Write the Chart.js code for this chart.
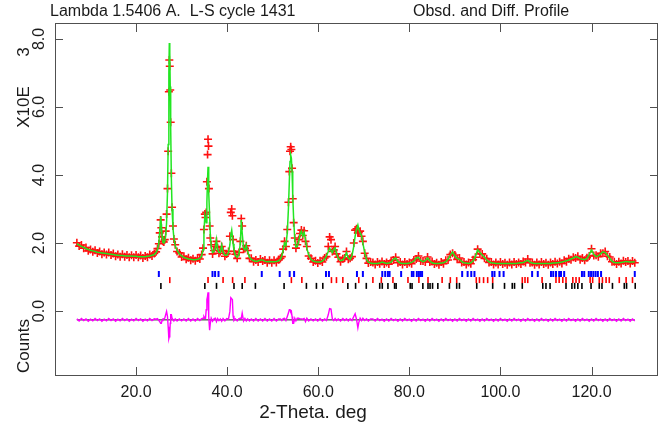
<!DOCTYPE html>
<html>
<head>
<meta charset="utf-8">
<script src="https://cdn.jsdelivr.net/npm/chart.js@4"></script>
<style>
  html, body { margin: 0; background: #fff; }
  #wrap { width: 667px; height: 435px; }
</style>
</head>
<body>
<div id="wrap"><canvas id="profile" width="667" height="435"></canvas></div>
<script>
// 2-theta grid (deg) and profile values in units of 10^3 counts
const twoTheta = [
  7.0, 7.5, 8.0, 8.5, 9.0, 9.5, 10.0, 10.5, 11.0, 11.5, 12.0, 12.5, 13.0, 13.5, 14.0, 14.5, 15.0, 15.5,
  16.0, 16.5, 17.0, 17.5, 18.0, 18.5, 19.0, 19.5, 20.0, 20.5, 21.0, 21.5, 22.0, 22.5, 23.0, 23.5, 24.0,
  24.4, 24.7, 25.0, 25.2, 25.4, 25.55, 25.7, 25.9, 26.1, 26.3, 26.5, 26.7, 26.9, 27.05, 27.2, 27.3, 27.4,
  27.5, 27.6, 27.75, 27.9, 28.1, 28.3, 28.6, 29.0, 29.5,
  30.0, 30.5, 31.0, 31.5, 32.0, 32.5, 33.0, 33.5, 34.0,
  34.4, 34.7, 34.9, 35.1, 35.25, 35.4, 35.55, 35.7, 35.8, 35.9, 36.0, 36.15, 36.3, 36.5, 36.8, 37.1, 37.4,
  37.65, 37.9, 38.2, 38.5, 38.8, 39.1, 39.5, 39.9, 40.3, 40.6, 40.8, 41.0, 41.15, 41.3, 41.5, 41.8, 42.2,
  42.6, 42.9, 43.1, 43.3, 43.6, 43.9, 44.2, 44.5, 44.9, 45.3,
  45.8, 46.3, 46.8, 47.3, 47.8, 48.3, 48.8, 49.3, 49.8, 50.3, 50.8, 51.3,
  51.7, 52.0, 52.3, 52.6, 52.9, 53.2, 53.45, 53.65, 53.8, 53.95, 54.1, 54.25, 54.4, 54.6, 54.85, 55.1,
  55.4, 55.7, 56.0, 56.3, 56.6, 56.9, 57.2, 57.5, 57.9, 58.4, 58.9, 59.4, 59.9, 60.4, 60.9, 61.4, 61.8,
  62.2, 62.5, 62.8, 63.1, 63.4, 63.7, 64.0, 64.4, 64.9, 65.4, 65.8, 66.2, 66.6, 67.0, 67.4, 67.8, 68.1,
  68.4, 68.7, 68.9, 69.2, 69.5, 69.8, 70.2, 70.6, 71.0, 71.5,
  72.0, 72.5, 73.0, 73.5, 74.0, 74.5, 75.0, 75.5, 76.0, 76.5, 77.0, 77.5, 78.0, 78.5, 79.0, 79.5,
  80.0, 80.5, 81.0, 81.5, 82.0, 82.5, 83.0, 83.5, 84.0, 84.5, 85.0, 85.5, 86.0, 86.5, 87.0, 87.5,
  88.0, 88.5, 89.0, 89.5, 90.0, 90.5, 91.0, 91.5, 92.0, 92.5, 93.0, 93.5, 94.0, 94.5, 95.0, 95.5,
  96.0, 96.5, 97.0, 97.5, 98.0, 98.5, 99.0, 99.5, 100.0, 100.5, 101.0, 101.5, 102.0, 102.5, 103.0, 103.5,
  104.0, 104.5, 105.0, 105.5, 106.0, 106.5, 107.0, 107.5, 108.0, 108.5, 109.0, 109.5, 110.0, 110.5, 111.0, 111.5,
  112.0, 112.5, 113.0, 113.5, 114.0, 114.5, 115.0, 115.5, 116.0, 116.5, 117.0, 117.5, 118.0, 118.5, 119.0, 119.5,
  120.0, 120.5, 121.0, 121.5, 122.0, 122.5, 123.0, 123.5, 124.0, 124.5, 125.0, 125.5, 126.0, 126.5, 127.0, 127.5,
  128.0, 128.5, 129.0, 129.5
];

const yCalc = [
  1.98, 1.94, 1.90, 1.87, 1.84, 1.81, 1.79, 1.77, 1.75, 1.73, 1.72, 1.71, 1.70, 1.69, 1.68, 1.67, 1.66, 1.65,
  1.64, 1.63, 1.63, 1.62, 1.62, 1.62, 1.62, 1.61, 1.61, 1.60, 1.60, 1.60, 1.60, 1.61, 1.62, 1.64, 1.66,
  1.72, 1.80, 2.00, 2.35, 2.78, 2.55, 2.20, 2.02, 2.00, 2.05, 2.20, 2.60, 3.50, 4.90, 7.00, 7.88, 7.60,
  6.60, 5.40, 3.90, 3.00, 2.45, 2.15, 1.92, 1.78, 1.68,
  1.62, 1.58, 1.55, 1.53, 1.52, 1.51, 1.51, 1.52, 1.55,
  1.62, 1.80, 2.30, 2.80, 2.70, 2.60, 3.20, 3.90, 4.24, 4.10, 3.50, 2.80, 2.25, 1.90, 1.72, 1.75, 1.85,
  2.10, 1.82, 1.72, 1.72, 1.94, 1.74, 1.64, 1.64, 1.72, 1.95, 2.25, 2.38, 2.20, 1.98, 1.78, 1.64, 1.58,
  1.68, 2.00, 2.68, 2.30, 1.85, 1.80, 1.95, 1.75, 1.58, 1.52,
  1.48, 1.46, 1.47, 1.50, 1.50, 1.46, 1.45, 1.46, 1.45, 1.45, 1.46, 1.48,
  1.52, 1.62, 1.78, 2.00, 1.92, 2.30, 3.00, 3.80, 4.40, 4.59, 4.50, 4.10, 3.40, 2.70, 2.10, 1.88,
  1.90, 2.05, 2.25, 2.35, 2.20, 2.32, 2.10, 1.85, 1.65, 1.52, 1.47, 1.45, 1.44, 1.44, 1.47, 1.53, 1.62,
  1.75, 1.85, 1.78, 1.72, 1.82, 1.86, 1.70, 1.55, 1.48, 1.50, 1.58, 1.72, 1.55, 1.52, 1.62, 1.90, 2.20,
  2.40, 2.53, 2.40, 2.30, 2.22, 2.00, 1.72, 1.52, 1.44, 1.41,
  1.40, 1.40, 1.40, 1.41, 1.44, 1.42, 1.40, 1.41, 1.44, 1.52, 1.56, 1.46, 1.41, 1.40, 1.40, 1.40,
  1.41, 1.43, 1.47, 1.56, 1.58, 1.49, 1.45, 1.48, 1.56, 1.47, 1.42, 1.40, 1.40, 1.40, 1.41, 1.42,
  1.45, 1.52, 1.64, 1.74, 1.62, 1.55, 1.52, 1.45, 1.42, 1.41, 1.40, 1.42, 1.47, 1.60, 1.80, 1.72,
  1.65, 1.58, 1.50, 1.45, 1.42, 1.41, 1.40, 1.40, 1.40, 1.40, 1.40, 1.40, 1.40, 1.40, 1.40, 1.40,
  1.41, 1.42, 1.43, 1.46, 1.49, 1.44, 1.41, 1.40, 1.40, 1.40, 1.40, 1.40, 1.40, 1.40, 1.40, 1.41,
  1.41, 1.42, 1.43, 1.44, 1.46, 1.48, 1.50, 1.53, 1.56, 1.60, 1.58, 1.54, 1.52, 1.51, 1.55, 1.66,
  1.80, 1.66, 1.60, 1.62, 1.68, 1.74, 1.72, 1.64, 1.55, 1.47, 1.43, 1.42, 1.42, 1.43, 1.44, 1.46,
  1.45, 1.44, 1.44, 1.45
];

const yObs = [
  2.01, 1.91, 1.94, 1.85, 1.87, 1.77, 1.81, 1.74, 1.79, 1.71, 1.75, 1.67, 1.72, 1.66, 1.72, 1.65, 1.69, 1.61,
  1.66, 1.60, 1.67, 1.60, 1.65, 1.58, 1.64, 1.58, 1.65, 1.58, 1.63, 1.56, 1.62, 1.58, 1.66, 1.62, 1.69,
  1.74, 1.84, 1.98, 2.30, 2.68, 2.45, 2.18, 2.05, 2.03, 2.10, 2.35, 2.85, 3.60, 4.70, 6.45, 7.38, 7.20,
  6.50, 5.55, 4.05, 3.05, 2.50, 2.12, 1.95, 1.75, 1.71,
  1.59, 1.61, 1.52, 1.57, 1.49, 1.54, 1.48, 1.56, 1.53,
  1.66, 1.85, 2.40, 2.85, 2.75, 2.90, 3.80, 4.60, 5.05, 4.85, 3.60, 2.50, 2.15, 1.95, 1.68, 1.78, 1.90,
  2.05, 1.86, 1.70, 1.75, 1.90, 1.78, 1.61, 1.68, 1.75, 2.20, 2.90, 3.00, 2.80, 2.10, 1.76, 1.67, 1.55,
  1.72, 2.05, 2.72, 2.50, 1.82, 1.84, 1.92, 1.78, 1.55, 1.55,
  1.45, 1.50, 1.44, 1.53, 1.47, 1.50, 1.42, 1.49, 1.42, 1.49, 1.43, 1.51,
  1.55, 1.60, 1.82, 2.05, 1.90, 2.40, 3.20, 4.10, 4.70, 4.83, 4.75, 4.20, 3.30, 2.60, 2.15, 1.85,
  1.95, 2.10, 2.28, 2.38, 2.22, 2.36, 2.05, 1.90, 1.62, 1.55, 1.44, 1.48, 1.41, 1.48, 1.44, 1.56, 1.60,
  1.90, 2.18, 2.10, 1.75, 1.80, 1.90, 1.68, 1.58, 1.45, 1.54, 1.56, 1.75, 1.52, 1.55, 1.60, 2.00, 2.38,
  2.42, 2.30, 2.32, 2.35, 2.20, 2.05, 1.70, 1.55, 1.41, 1.44,
  1.43, 1.37, 1.44, 1.39, 1.46, 1.38, 1.43, 1.38, 1.48, 1.50, 1.58, 1.42, 1.44, 1.37, 1.44, 1.38,
  1.43, 1.39, 1.50, 1.53, 1.62, 1.47, 1.47, 1.44, 1.59, 1.44, 1.46, 1.38, 1.42, 1.36, 1.44, 1.39,
  1.49, 1.50, 1.66, 1.70, 1.65, 1.52, 1.56, 1.43, 1.44, 1.37, 1.43, 1.39, 1.51, 1.58, 1.82, 1.68,
  1.68, 1.55, 1.54, 1.43, 1.44, 1.37, 1.43, 1.37, 1.44, 1.38, 1.42, 1.36, 1.43, 1.37, 1.44, 1.38,
  1.43, 1.38, 1.46, 1.43, 1.53, 1.42, 1.43, 1.36, 1.43, 1.37, 1.44, 1.38, 1.42, 1.36, 1.43, 1.38,
  1.45, 1.40, 1.45, 1.40, 1.49, 1.45, 1.54, 1.51, 1.58, 1.56, 1.61, 1.51, 1.56, 1.49, 1.57, 1.62,
  1.83, 1.63, 1.64, 1.60, 1.70, 1.70, 1.75, 1.61, 1.59, 1.45, 1.45, 1.38, 1.45, 1.40, 1.48, 1.44,
  1.47, 1.40, 1.47, 1.42
];

// difference curve, drawn offset below the pattern
const yDiff = [
  -0.23, -0.29, -0.22, -0.28, -0.23, -0.30, -0.24, -0.29, -0.22, -0.28, -0.23, -0.30, -0.24, -0.29, -0.22, -0.28, -0.23, -0.30,
  -0.24, -0.29, -0.22, -0.28, -0.23, -0.30, -0.24, -0.29, -0.22, -0.28, -0.23, -0.30, -0.24, -0.29, -0.22, -0.28, -0.23,
  -0.24, -0.22, -0.28, -0.31, -0.36, -0.36, -0.28, -0.23, -0.23, -0.21, -0.11, -0.01, -0.16, -0.46, -0.81, -0.76, -0.66,
  -0.36, -0.11, -0.11, -0.21, -0.21, -0.29, -0.23, -0.29, -0.23,
  -0.29, -0.23, -0.29, -0.22, -0.29, -0.23, -0.29, -0.22, -0.28,
  -0.22, -0.21, -0.16, -0.21, -0.21, 0.04, 0.34, 0.44, 0.55, 0.49, -0.16, -0.56, -0.36, -0.21, -0.30, -0.23, -0.21,
  -0.31, -0.22, -0.28, -0.23, -0.30, -0.22, -0.29, -0.22, -0.23, -0.01, 0.39, 0.36, 0.34, -0.14, -0.28, -0.23, -0.29,
  -0.22, -0.21, -0.22, -0.06, -0.29, -0.22, -0.29, -0.23, -0.29, -0.23,
  -0.29, -0.22, -0.29, -0.23, -0.29, -0.22, -0.29, -0.23, -0.29, -0.22, -0.29, -0.23,
  -0.23, -0.28, -0.22, -0.21, -0.28, -0.16, -0.06, 0.04, 0.04, -0.02, -0.01, -0.16, -0.36, -0.36, -0.21, -0.29,
  -0.21, -0.21, -0.23, -0.23, -0.24, -0.22, -0.31, -0.21, -0.29, -0.23, -0.29, -0.23, -0.29, -0.22, -0.29, -0.23, -0.28,
  -0.11, 0.07, 0.06, -0.23, -0.28, -0.22, -0.28, -0.23, -0.29, -0.22, -0.28, -0.23, -0.29, -0.23, -0.28, -0.16, -0.08,
  -0.24, -0.49, -0.34, -0.21, -0.28, -0.21, -0.28, -0.23, -0.29, -0.23,
  -0.23, -0.29, -0.22, -0.28, -0.24, -0.30, -0.23, -0.29, -0.22, -0.28, -0.24, -0.30, -0.23, -0.29, -0.22, -0.28,
  -0.24, -0.30, -0.23, -0.29, -0.22, -0.28, -0.24, -0.30, -0.23, -0.29, -0.22, -0.28, -0.24, -0.30, -0.23, -0.29,
  -0.22, -0.28, -0.24, -0.30, -0.23, -0.29, -0.22, -0.28, -0.24, -0.30, -0.23, -0.29, -0.22, -0.28, -0.24, -0.30,
  -0.23, -0.29, -0.22, -0.28, -0.24, -0.30, -0.23, -0.29, -0.22, -0.28, -0.24, -0.30, -0.23, -0.29, -0.22, -0.28,
  -0.24, -0.30, -0.23, -0.29, -0.22, -0.28, -0.24, -0.30, -0.23, -0.29, -0.22, -0.28, -0.24, -0.30, -0.23, -0.29,
  -0.22, -0.28, -0.24, -0.30, -0.23, -0.29, -0.22, -0.28, -0.24, -0.30, -0.23, -0.29, -0.22, -0.28, -0.24, -0.30,
  -0.23, -0.29, -0.22, -0.28, -0.24, -0.30, -0.23, -0.29, -0.22, -0.28, -0.24, -0.30, -0.23, -0.29, -0.22, -0.28,
  -0.24, -0.30, -0.23, -0.29
];

const diffZeroTheta = [7.0, 129.5];
const diffZeroLevel = [-0.26, -0.26];

// reflection markers for the three phases
const phase1Ticks = [25.0, 36.78, 37.35, 38.1, 47.6, 51.54, 53.73, 54.7, 61.7, 62.35, 68.5, 69.8, 74.06, 74.7,
  75.3, 75.66, 78.2, 80.55, 80.9, 81.65, 82.1, 82.46, 82.8, 91.6, 92.8, 93.6, 94.3, 98.2, 98.7, 99.8, 100.7,
  106.96, 108.2, 111.1, 111.6, 112.2, 112.9, 113.3, 114.0, 117.9, 118.4, 119.4, 119.9, 120.4, 120.9, 121.4,
  122.1, 129.5];
const phase2Ticks = [27.4, 35.8, 39.1, 41.2, 43.9, 54.1, 56.4, 62.9, 64.0, 65.4, 68.9, 72.0, 73.85, 76.4, 79.7,
  82.1, 84.1, 87.2, 89.0, 90.4, 94.7, 95.4, 96.3, 97.2, 98.3, 104.8, 105.4, 106.0, 109.15, 112.2, 112.9, 113.7,
  114.4, 115.9, 116.6, 117.3, 119.7, 120.25, 121.7, 122.4, 123.2, 123.9, 126.1, 127.6, 129.0];
const phase3Ticks = [25.45, 35.1, 37.66, 41.5, 43.3, 46.2, 52.5, 57.4, 59.6, 61.0, 66.5, 68.2, 70.55, 73.5, 74.06,
  75.3, 76.76, 77.1, 80.2, 80.6, 82.97, 84.1, 84.55, 85.1, 86.26, 88.8, 90.4, 91.0, 94.8, 98.3, 100.9, 102.6,
  103.1, 104.8, 109.3, 110.0, 110.9, 114.4, 115.7, 116.3, 117.0, 117.9, 119.9, 121.7, 122.3, 124.6, 127.2,
  127.7, 129.6];
const tickRowLevels = [1.09, 0.91, 0.74];

const xTickValues = [20, 40, 60, 80, 100, 120];
const xTickLabels = ['20.0', '40.0', '60.0', '80.0', '100.0', '120.0'];
const yTickValues = [0, 2, 4, 6, 8];
const yTickLabels = ['0.0', '2.0', '4.0', '6.0', '8.0'];

const FONT = '"Liberation Sans", Arial, sans-serif';

function toPoints(xs, ys) {
  return xs.map((x, i) => ({ x, y: ys[i] }));
}

function tickRow(xs, level) {
  return xs.map((x) => ({ x, y: level }));
}

const profileFrame = {
  id: 'profileFrame',
  afterDraw(chart) {
    const { ctx, chartArea: area } = chart;
    const xs = chart.scales.x;
    const ys = chart.scales.y;
    ctx.save();
    ctx.strokeStyle = '#505050';
    ctx.lineWidth = 1;
    ctx.strokeRect(area.left + 0.5, area.top + 0.5, area.right - area.left - 1, area.bottom - area.top - 1);
    ctx.beginPath();
    xTickValues.forEach((v) => {
      const px = Math.round(xs.getPixelForValue(v)) + 0.5;
      ctx.moveTo(px, area.bottom);
      ctx.lineTo(px, area.bottom - 9);
      ctx.moveTo(px, area.top);
      ctx.lineTo(px, area.top + 9);
    });
    yTickValues.forEach((v) => {
      const py = Math.round(ys.getPixelForValue(v)) + 0.5;
      ctx.moveTo(area.left, py);
      ctx.lineTo(area.left + 8, py);
      ctx.moveTo(area.right, py);
      ctx.lineTo(area.right - 8, py);
    });
    ctx.stroke();

    ctx.fillStyle = '#1a1a1a';
    ctx.textAlign = 'center';
    ctx.textBaseline = 'middle';
    ctx.font = '16px ' + FONT;
    xTickValues.forEach((v, i) => {
      ctx.fillText(xTickLabels[i], xs.getPixelForValue(v), area.bottom + 17);
    });
    yTickValues.forEach((v, i) => {
      ctx.save();
      ctx.translate(area.left - 15, ys.getPixelForValue(v));
      ctx.rotate(-Math.PI / 2);
      ctx.fillText(yTickLabels[i], 0, 0);
      ctx.restore();
    });

    // rotated axis captions on the left
    ctx.save();
    ctx.font = '17px ' + FONT;
    ctx.translate(24, 0);
    ctx.rotate(-Math.PI / 2);
    ctx.fillText('X10E', -107, 0);
    ctx.fillText('3', -52, 0);
    ctx.fillText('Counts', -346, 0);
    ctx.restore();

    ctx.font = '19px ' + FONT;
    ctx.fillText('2-Theta. deg', 313, 413);

    ctx.font = '16px ' + FONT;
    ctx.textAlign = 'left';
    ctx.fillText('Lambda 1.5406 A.  L-S cycle 1431', 50, 12);
    ctx.fillText('Obsd. and Diff. Profile', 413, 12);
    ctx.restore();
  }
};

new Chart(document.getElementById('profile'), {
  type: 'scatter',
  data: {
    datasets: [
      {
        label: 'Calc',
        type: 'line',
        data: toPoints(twoTheta, yCalc),
        borderColor: '#22e622',
        borderWidth: 1.5,
        pointRadius: 0,
        fill: false,
        order: 0,
      },
      {
        label: 'Obs',
        data: toPoints(twoTheta, yObs),
        pointStyle: 'cross',
        pointRadius: 4,
        borderColor: '#ff1010',
        backgroundColor: '#ff1010',
        borderWidth: 1.6,
        order: 1,
      },
      {
        label: 'Diff',
        type: 'line',
        data: toPoints(twoTheta, yDiff),
        borderColor: '#ff00ff',
        borderWidth: 1.4,
        pointRadius: 0,
        order: 2,
      },
      {
        label: 'Diff zero',
        type: 'line',
        data: toPoints(diffZeroTheta, diffZeroLevel),
        borderColor: '#202020',
        borderWidth: 1,
        pointRadius: 0,
        order: 3,
      },
      {
        label: 'Phase 1',
        data: tickRow(phase1Ticks, tickRowLevels[0]),
        pointStyle: 'line',
        rotation: 90,
        pointRadius: 3,
        borderColor: '#0000ff',
        borderWidth: 2,
        order: 4,
      },
      {
        label: 'Phase 2',
        data: tickRow(phase2Ticks, tickRowLevels[1]),
        pointStyle: 'line',
        rotation: 90,
        pointRadius: 3,
        borderColor: '#ff0000',
        borderWidth: 1.6,
        order: 4,
      },
      {
        label: 'Phase 3',
        data: tickRow(phase3Ticks, tickRowLevels[2]),
        pointStyle: 'line',
        rotation: 90,
        pointRadius: 3,
        borderColor: '#000000',
        borderWidth: 1.6,
        order: 4,
      },
    ],
  },
  options: {
    responsive: false,
    animation: false,
    events: [],
    layout: { padding: { left: 55, right: 9, top: 23, bottom: 59 } },
    plugins: {
      legend: { display: false },
      tooltip: { enabled: false },
    },
    scales: {
      x: { type: 'linear', display: false, min: 2.2, max: 134.6 },
      y: { type: 'linear', display: false, min: -1.91, max: 8.47 },
    },
  },
  plugins: [profileFrame],
});
</script>
</body>
</html>
